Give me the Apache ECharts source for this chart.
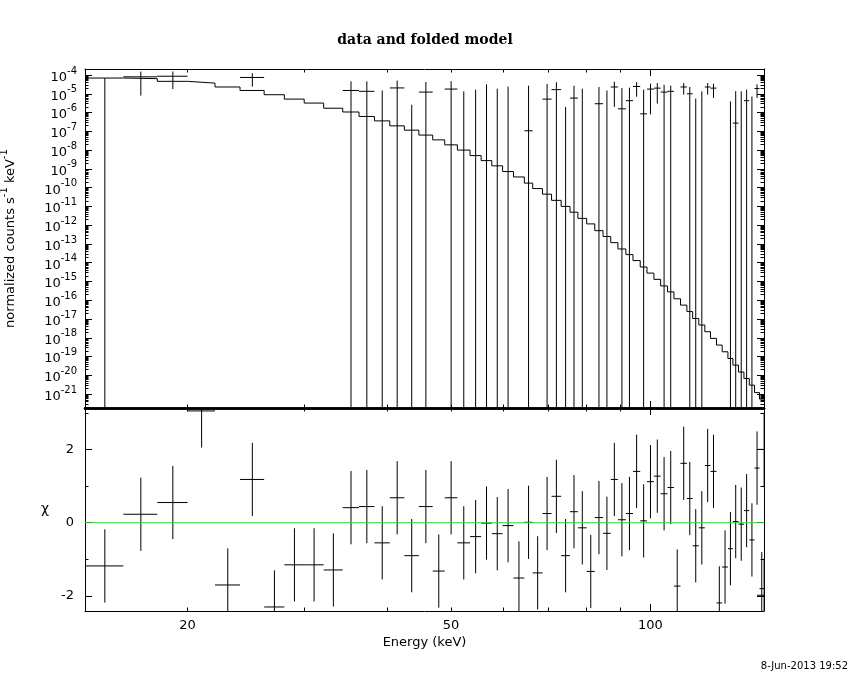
<!DOCTYPE html>
<html>
<head>
<meta charset="utf-8">
<script src="https://cdn.jsdelivr.net/npm/echarts@6/dist/echarts.min.js"></script>
<style>
html, body { margin: 0; padding: 0; background: #fff; }
#chart { width: 850px; height: 680px; }
</style>
</head>
<body>
<div id="chart"></div>
<script>
// energy bins (keV), lower and upper edges
var eLo = [14.0, 16.0, 18.0, 20.0, 22.0, 24.0, 26.1, 28.0, 30.0, 32.1,
    34.3, 36.3, 38.3, 40.4, 42.5, 44.7, 46.9, 48.9, 51.1, 53.4,
    55.5, 57.6, 59.8, 62.1, 64.5, 66.4, 68.7, 70.9, 73.3, 75.6,
    77.7, 80.1, 82.4, 84.8, 87.1, 89.3, 91.8, 94.1, 96.5, 98.8,
    101.2, 103.6, 106.1, 108.5, 111.0, 113.5, 115.8, 118.3, 120.8, 123.2,
    125.8, 128.3, 130.9, 133.2, 135.8, 138.4, 141.0, 143.6, 146.1, 144.9, 144.9];
var eHi = [16.0, 18.0, 20.0, 22.0, 24.0, 26.1, 28.0, 30.0, 32.1, 34.3,
    36.3, 38.3, 40.4, 42.5, 44.7, 46.9, 48.9, 51.1, 53.4, 55.5,
    57.6, 59.8, 62.1, 64.5, 66.4, 68.7, 70.9, 73.3, 75.6, 77.7,
    80.1, 82.4, 84.8, 87.1, 89.3, 91.8, 94.1, 96.5, 98.8, 101.2,
    103.6, 106.1, 108.5, 111.0, 113.5, 115.8, 118.3, 120.8, 123.2, 125.8,
    128.3, 130.9, 133.2, 135.8, 138.4, 141.0, 143.6, 146.1, 148.4, 152.0, 152.0];

// data: normalized counts s^-1 keV^-1 and 1-sigma error (negative rate = below zero)
var rate = [-5e-6, 8.0e-5, 8.6e-5, 3.5e-4, -6.2e-5, 7.4e-5, -9.5e-5, -4.7e-5, -4.9e-5, -5.0e-5,
    1.5e-5, 1.35e-5, -1.8e-5, 2.05e-5, -2.34e-5, 1.23e-5, -4.0e-5, 1.78e-5, -1.65e-5, -1.02e-5,
    -3e-7, -8e-6, -2e-6, -4.1e-5, 1.07e-7, -3.7e-5, 5.2e-6, 1.66e-5, -1.9e-5, 5.9e-6,
    -3e-6, -2.9e-5, 2.95e-6, -6e-6, 2.3e-5, 1.58e-6, 4.3e-6, 2.45e-5, 8.5e-7, 1.78e-5,
    2.0e-5, 1.23e-5, 1.35e-5, -2.8e-5, 2.3e-5, 1.0e-5, -9.4e-6, -2.2e-6, 2.3e-5, 2.0e-5,
    -3.1e-5, -1.7e-5, -9.5e-6, 2.75e-7, -5.6e-7, 4.3e-6, -6.4e-6, 1.9e-5, -2.3e-5, null, null];
var rateErr = [7.4e-5, 7.2e-5, 6.8e-5, 1.03e-4, 5e-5, 5e-5, 4.5e-5, 4.5e-5, 4.5e-5, 4e-5,
    3.1e-5, 3.25e-5, 3.3e-5, 3.0e-5, 2.6e-5, 3.0e-5, 3.0e-5, 2.9e-5, 3.0e-5, 2.68e-5,
    3.2e-5, 2.66e-5, 2.6e-5, 2.7e-5, 2.7e-5, 2.7e-5, 2.8e-5, 2.5e-5, 2.1e-5, 2.1e-5,
    2.16e-5, 2.2e-5, 2.0e-5, 2.1e-5, 2.1e-5, 1.85e-5, 1.7e-5, 1.75e-5, 1.58e-5, 1.7e-5,
    1.7e-5, 1.77e-5, 1.35e-5, 1.6e-5, 1.4e-5, 1.3e-5, 1.5e-5, 1.57e-5, 1.4e-5, 1.4e-5,
    1.4e-5, 1.4e-5, 1.34e-5, 1.35e-5, 1.4e-5, 1.23e-5, 1.36e-5, 1.3e-5, 1.3e-5, null, null];

// folded model per bin
var model = [6.9e-5, 6.4e-5, 4.6e-5, 3.7e-5, 2.3e-5, 1.5e-5, 8.9e-6, 5.2e-6, 3.2e-6, 1.7e-6,
    1.07e-6, 6.2e-7, 3.6e-7, 1.95e-7, 1.15e-7, 6.3e-8, 3.5e-8, 1.9e-8, 1.0e-8, 5.1e-9,
    2.75e-9, 1.45e-9, 7.2e-10, 3.7e-10, 1.74e-10, 8.9e-11, 4.5e-11, 2.1e-11, 1.0e-11, 4.9e-12,
    2.3e-12, 1.17e-12, 5.1e-13, 2.5e-13, 1.17e-13, 5.4e-14, 2.7e-14, 1.3e-14, 5.9e-15, 2.8e-15,
    1.3e-15, 5.8e-16, 2.8e-16, 1.2e-16, 5.5e-17, 2.5e-17, 1.07e-17, 4.8e-18, 2.1e-18, 9.3e-19,
    4.1e-19, 1.8e-19, 7.9e-20, 3.5e-20, 1.5e-20, 6.8e-21, 3.0e-21, 1.2e-21, 5.4e-22];

// residuals (chi)
var resid = [-1.18, 0.23, 0.55, 3.05, -1.70, 1.18, -2.30, -1.15, -1.15, -1.29,
    0.41, 0.44, -0.55, 0.68, -0.90, 0.44, -1.32, 0.68, -0.55, -0.38,
    -0.01, -0.30, -0.08, -1.51, 0.01, -1.37, 0.25, 0.72, -0.90, 0.30,
    -0.14, -1.33, 0.14, -0.29, 1.18, 0.08, 0.25, 1.40, 0.05, 1.12,
    1.27, 0.79, 0.96, -1.73, 1.62, 0.66, -0.63, -0.14, 1.56, 1.40,
    -2.19, -1.21, -0.71, 0.03, -0.04, 0.33, -0.47, 1.49, -1.80, 2.00, -1.98];

// ticks and labels
var xLabelTicks = [20, 50, 100];
var xMajorTicks = [100];
var xMinorTicks = [20, 30, 40, 50, 60, 70, 80, 90];
var yExponents = [-21, -20, -19, -18, -17, -16, -15, -14, -13, -12, -11, -10, -9, -8, -7, -6, -5, -4];
var rLabelTicks = [-2, 0, 2];
var rMinorTicks = [-1, 1, 3];

var X_MIN = 14, X_MAX = 148.4;
var Y_MIN = Math.pow(10, -21.74), Y_MAX = Math.pow(10, -3.68);
var R_MIN = -2.41, R_MAX = 3.13;
var FONT = 'DejaVu Sans';

var yMajor = yExponents.map(function (n) { return Math.pow(10, n); });
var yMinor = [];
for (var n = -22; n <= -4; n++) {
    for (var k = 2; k <= 9; k++) {
        var v = k * Math.pow(10, n);
        if (v > Y_MIN && v < Y_MAX) yMinor.push(v);
    }
}

var modelSteps = [];
for (var i = 0; i < model.length; i++) modelSteps.push([eLo[i], model[i]]);
modelSteps.push([eHi[model.length - 1], model[model.length - 1]]);

var rateItems = [];
for (var j = 0; j < rate.length; j++) {
    if (rate[j] !== null) rateItems.push([eLo[j], eHi[j], rate[j], rateErr[j]]);
}
var residItems = resid.map(function (r, i) { return [eLo[i], eHi[i], r]; });

function seg(p1, p2) {
    return { type: 'line', shape: { x1: p1[0], y1: p1[1], x2: p2[0], y2: p2[1] },
        style: { stroke: '#000', lineWidth: 1 } };
}

function renderRate(params, api) {
    var lo = api.value(0), hi = api.value(1), r = api.value(2), e = api.value(3);
    var mid = (lo + hi) / 2;
    var kids = [];
    if (r + e > 0) {
        var bot = r - e > 0 ? r - e : Y_MIN;
        kids.push(seg(api.coord([mid, r + e]), api.coord([mid, bot])));
    }
    if (r > 0) kids.push(seg(api.coord([lo, r]), api.coord([hi, r])));
    return { type: 'group', children: kids };
}

function renderResid(params, api) {
    var lo = api.value(0), hi = api.value(1), r = api.value(2);
    var mid = (lo + hi) / 2;
    return { type: 'group', children: [
        seg(api.coord([mid, r - 1]), api.coord([mid, r + 1])),
        seg(api.coord([lo, r]), api.coord([hi, r]))
    ] };
}

function xAxis(grid, pos, ticks, len, lineW, labels) {
    return {
        type: 'log', logBase: 10, gridIndex: grid, position: pos, min: X_MIN, max: X_MAX,
        axisLine: { show: lineW > 0, onZero: false, lineStyle: { color: '#000', width: lineW || 1 } },
        axisTick: { show: true, inside: true, length: len, customValues: ticks, lineStyle: { color: '#000', width: 1 } },
        axisLabel: labels ? { show: true, customValues: labels, margin: 8, color: '#000', fontFamily: FONT, fontSize: 13 } : { show: false },
        splitLine: { show: false }
    };
}

function yLogAxis(pos, ticks, len, lineW, labels) {
    return {
        type: 'log', logBase: 10, gridIndex: 0, position: pos, min: Y_MIN, max: Y_MAX,
        axisLine: { show: lineW > 0, onZero: false, lineStyle: { color: '#000', width: lineW || 1 } },
        axisTick: { show: true, inside: true, length: len, customValues: ticks, lineStyle: { color: '#000', width: 1 } },
        axisLabel: labels ? {
            show: true, customValues: labels, margin: 8,
            formatter: function (v) { return '{a|10}{b|' + Math.round(Math.log10(v)) + '}'; },
            rich: {
                a: { fontFamily: FONT, fontSize: 13, color: '#000', lineHeight: 18, verticalAlign: 'bottom' },
                b: { fontFamily: FONT, fontSize: 10, color: '#000', lineHeight: 18, verticalAlign: 'top' }
            }
        } : { show: false },
        splitLine: { show: false }
    };
}

function yResAxis(pos, ticks, len, lineW, labels) {
    return {
        type: 'value', gridIndex: 1, position: pos, min: R_MIN, max: R_MAX,
        axisLine: { show: lineW > 0, onZero: false, lineStyle: { color: '#000', width: lineW || 1 } },
        axisTick: { show: true, inside: true, length: len, customValues: ticks, lineStyle: { color: '#000', width: 1 } },
        axisLabel: labels ? { show: true, customValues: labels, margin: 11, color: '#000', fontFamily: FONT, fontSize: 13 } : { show: false },
        splitLine: { show: false }
    };
}

var xAxes = [
    xAxis(0, 'bottom', xMajorTicks, 7, 2.5),
    xAxis(0, 'bottom', xMinorTicks, 3.5, 0),
    xAxis(0, 'top', xMajorTicks, 7, 1),
    xAxis(0, 'top', xMinorTicks, 3.5, 0),
    xAxis(1, 'bottom', xMajorTicks, 7, 1, xLabelTicks),
    xAxis(1, 'bottom', xMinorTicks, 3.5, 0),
    xAxis(1, 'top', xMajorTicks, 7, 2.5),
    xAxis(1, 'top', xMinorTicks, 3.5, 0)
];
xAxes[4].name = 'Energy (keV)';
xAxes[4].nameLocation = 'middle';
xAxes[4].nameGap = 25;
xAxes[4].nameTextStyle = { fontFamily: FONT, fontSize: 13, color: '#000' };

var yAxes = [
    yLogAxis('left', yMajor, 7, 1, yMajor),
    yLogAxis('left', yMinor, 3.5, 0),
    yLogAxis('right', yMajor, 7, 1),
    yLogAxis('right', yMinor, 3.5, 0),
    yResAxis('left', rLabelTicks, 7, 1, rLabelTicks),
    yResAxis('left', rMinorTicks, 3.5, 0),
    yResAxis('right', rLabelTicks, 7, 1),
    yResAxis('right', rMinorTicks, 3.5, 0)
];
yAxes[0].name = '{a|normalized counts s}{b|-1}{a| keV}{b|-1}';
yAxes[0].nameLocation = 'middle';
yAxes[0].nameGap = 68;
yAxes[0].nameTextStyle = { rich: {
    a: { fontFamily: FONT, fontSize: 13, color: '#000', lineHeight: 18, verticalAlign: 'bottom' },
    b: { fontFamily: FONT, fontSize: 10, color: '#000', lineHeight: 18, verticalAlign: 'top' }
} };
yAxes[4].name = 'χ';
yAxes[4].nameLocation = 'middle';
yAxes[4].nameRotate = 0;
yAxes[4].nameGap = 36;
yAxes[4].nameTextStyle = { fontFamily: FONT, fontSize: 14, color: '#000' };

var chart = echarts.init(document.getElementById('chart'));
chart.setOption({
    animation: false,
    backgroundColor: '#fff',
    title: {
        text: 'data and folded model', left: 'center', top: 28,
        textStyle: { fontFamily: 'DejaVu Serif', fontSize: 14, fontWeight: 'bold', color: '#000' }
    },
    grid: [
        { left: 85, top: 69, width: 679, height: 339, containLabel: false, outerBoundsMode: 'none' },
        { left: 85, top: 408, width: 679, height: 203, containLabel: false, outerBoundsMode: 'none' }
    ],
    xAxis: xAxes,
    yAxis: yAxes,
    graphic: [{
        type: 'text', right: 2, top: 661,
        style: { text: '8-Jun-2013 19:52', fontFamily: FONT, fontSize: 10, fill: '#000' }
    }],
    series: [
        {
            type: 'line', xAxisIndex: 0, yAxisIndex: 0, step: 'end', symbol: 'none',
            data: modelSteps, lineStyle: { color: '#000', width: 1 }, silent: true
        },
        {
            type: 'custom', xAxisIndex: 0, yAxisIndex: 0, renderItem: renderRate,
            data: rateItems, encode: { x: [0, 1], y: 3 }, clip: true, silent: true
        },
        {
            type: 'custom', xAxisIndex: 4, yAxisIndex: 4, renderItem: renderResid,
            data: residItems, encode: { x: [0, 1], y: 2 }, clip: true, silent: true
        },
        {
            type: 'line', xAxisIndex: 4, yAxisIndex: 4, symbol: 'none', z: 5,
            data: [[X_MIN, 0], [X_MAX, 0]], lineStyle: { color: '#00ff00', width: 1 }, silent: true
        }
    ]
});
</script>
</body>
</html>
